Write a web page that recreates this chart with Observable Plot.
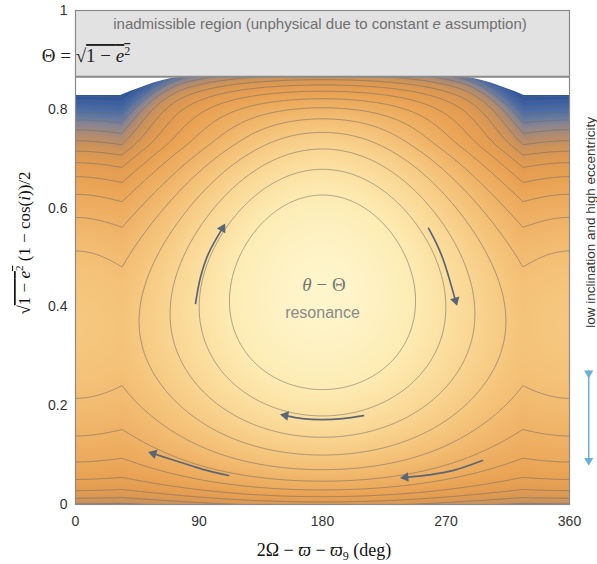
<!DOCTYPE html>
<html><head><meta charset="utf-8">
<script src="https://cdn.jsdelivr.net/npm/d3@7"></script>
<script src="https://cdn.jsdelivr.net/npm/@observablehq/plot@0.6"></script>
<style>body{margin:0;background:#fff}</style>
</head><body><div id="chart"></div>
<script>
// ---- axes / ticks
const xTicks = [0, 90, 180, 270, 360];
const yTicks = [0, 0.2, 0.4, 0.6, 0.8, 1];
// ---- contour levels of the Hamiltonian
const levels = [0.039, 0.063, 0.087, 0.111, 0.135, 0.159, 0.183, 0.207, 0.231, 0.255, 0.279, 0.303, 0.327, 0.351, 0.375, 0.399, 0.423];
// ---- admissible boundary and upper edge of computed domain (deg, value)
const admissibleTop = 0.866;
const topEdgePhi = [0, 33, 39, 45, 51, 57, 63, 69, 75, 81, 180, 279, 285, 291, 297, 303, 309, 315, 321, 327, 360];
const topEdgeY   = [0.828, 0.828, 0.835, 0.841, 0.847, 0.853, 0.858, 0.862, 0.865, 0.866, 0.866, 0.866, 0.865, 0.862, 0.858, 0.853, 0.847, 0.841, 0.835, 0.828, 0.828];
// ---- resonance model parameters (centre, crease, couplings)
const centre = [180, 0.43];
const creaseDeg = [34];
const coupling = [0.171, 0.072, 0.24, 0.4];      // saturation, depth, reference y, scale
const couplingTop = [0.6, 0.72, 0.16];           // reduction, start y, width
const angleMix = [0.7];
const sideDip = [0.06];
const bottomTerm = [0.06, 0.03];                  // amplitude, scale
const topTerm = [0.08, 0.11, 0.045, 0.02];        // amp, amp gain, scale, scale gain
// ---- colour ramp
const colorStops = [0, 0.04, 0.08, 0.12, 0.16, 0.20, 0.235, 0.265, 0.29, 0.315, 0.34, 0.37, 0.42];
const colorRange = ["#fef5cb", "#fdebb2", "#fad997", "#f5c57c", "#efb266", "#eaa354", "#e19b52", "#cf9458", "#b48c6e", "#8c8690", "#5f77a2", "#4467a8", "#2b55a0"];
// ---- flow arrows (deg, value)
const arrowLeft   = [[87.5, 0.407], [91.1, 0.460], [96.9, 0.508], [107.1, 0.559]];
const arrowRight  = [[257.3, 0.559], [263.1, 0.528], [268.2, 0.494], [276.9, 0.413]];
const arrowBottom = [[209.9, 0.180], [194.6, 0.174], [180, 0.172], [165.4, 0.174], [153, 0.180]];
const arrowLowL   = [[111.5, 0.0587], [97, 0.068], [83.8, 0.079], [56.8, 0.103]];
const arrowLowR   = [[296.6, 0.089], [275.5, 0.069], [258, 0.060], [240.5, 0.055]];
const sideArrow   = [[374, 0.271], [374, 0.089]];

const edgeScale = d3.scaleLinear().domain(topEdgePhi).range(topEdgeY).clamp(true);
function wrap(phi) { return ((phi % 360) + 360) % 360; }
function fold(phi) { const p = wrap(phi); return p > 180 ? 360 - p : p; }
function sMain(p) {
  const c = creaseDeg[0], a = Math.PI / 2 * (180 - p) / (180 - c), m = angleMix[0];
  return m * (1 - Math.cos(a)) + (1 - m) * Math.sin(a) ** 2;
}
function sAng(phi) {
  const p = fold(phi), c = creaseDeg[0];
  if (p >= c) return sMain(p);
  return 1 - sideDip[0] * Math.sin(Math.PI / 2 * (c - p) / c);
}
function smooth(t) { t = Math.max(0, Math.min(1, t)); return t * t * (3 - 2 * t); }
function ham(phi, y) {
  const p = fold(phi);
  const s = sAng(phi);
  const w = sMain(Math.max(p, creaseDeg[0])) ** 3;
  const Q = (coupling[0] - coupling[1] * Math.exp(-(y - coupling[2]) / coupling[3]))
          * (1 - couplingTop[0] * smooth((y - couplingTop[1]) / couplingTop[2]));
  const P = (y - centre[1]) ** 2;
  const eb = bottomTerm[0] * Math.exp(-Math.max(y, -0.05) / bottomTerm[1]);
  const A = topTerm[0] + topTerm[1] * w, lam = topTerm[2] + topTerm[3] * w;
  const et = A * Math.exp(-(edgeScale(wrap(phi)) - y) / lam);
  return P + Q * s + eb + et;
}

const W = 597, H = 564, mL = 75, mR = 28, mT = 10, mB = 60;
const xs = d3.scaleLinear([0, 360], [mL, W - mR]);
const ys = d3.scaleLinear([0, 1], [H - mB, mT]);
const arrowColor = "#5b6675";
const arcs = [arrowLeft, arrowRight, arrowBottom, arrowLowL, arrowLowR];
const heads = arcs.map(a => {
  const [p0, p1] = [a[a.length - 2], a[a.length - 1]];
  const dx = xs(p1[0]) - xs(p0[0]), dy = ys(p1[1]) - ys(p0[1]);
  return {x: p1[0], y: p1[1], r: Math.atan2(dx, -dy) * 180 / Math.PI};
});
const edgeData = topEdgePhi.map((p, i) => ({phi: p, y: topEdgeY[i]}));

const chart = Plot.plot({
  width: W, height: H,
  marginLeft: mL, marginRight: mR, marginTop: mT, marginBottom: mB,
  style: {fontFamily: "'Liberation Sans', Helvetica, Arial, sans-serif", fontSize: "14px", color: "#333", background: "#fff"},
  x: {domain: [0, 360], ticks: xTicks, tickSize: 0, tickPadding: 12, label: null},
  y: {domain: [0, 1], ticks: yTicks, tickSize: 0, tickPadding: 8, tickFormat: "~g", label: null},
  color: {type: "linear", domain: colorStops, range: colorRange, clamp: true},
  marks: [
    Plot.raster({fill: ham, x1: 0, x2: 360, y1: 0, y2: 1, pixelSize: 1}),
    Plot.contour({value: ham, x1: -4, x2: 364, y1: -0.02, y2: 1, pixelSize: 1, thresholds: levels,
      fill: "none", stroke: "#6b6865", strokeOpacity: 0.72, strokeWidth: 0.8, clip: true}),
    Plot.areaY(edgeData, {x: "phi", y1: "y", y2: admissibleTop, fill: "white"}),
    Plot.rect([0], {x1: 0, x2: 360, y1: admissibleTop, y2: 1, fill: "#e2e2e2"}),
    Plot.ruleY([admissibleTop], {stroke: "#8a8a8a", strokeWidth: 2}),
    Plot.frame({stroke: "#8a8a8a", strokeWidth: 1.2}),
    ...arcs.map(a => Plot.line(a, {x: d => d[0], y: d => d[1], curve: "catmull-rom", stroke: arrowColor, strokeWidth: 1.7})),
    Plot.dot(heads, {x: "x", y: "y", rotate: "r", symbol: "triangle", r: 3.6, fill: arrowColor, stroke: "none"}),
    Plot.line(sideArrow, {x: d => d[0], y: d => d[1], stroke: "#6aafd8", strokeWidth: 1.5, clip: false}),
    Plot.dot([{x: 374, y: 0.089, r: 180}, {x: 374, y: 0.266, r: 180}], {x: "x", y: "y", rotate: "r", symbol: "triangle", r: 3.4, fill: "#6aafd8", clip: false}),
    Plot.text(["low inclination and high eccentricity"], {x: 375.5, y: 0.571, rotate: -90, fontSize: 13.5, fill: "#333", clip: false}),
    Plot.text(["resonance"], {x: 180, y: 0.387, fontSize: 16, fill: "#8a8a8a"})
  ]
});
document.getElementById("chart").append(chart);

const svg = d3.select(chart);
const serif = "'Liberation Serif', 'DejaVu Serif', serif";
// x label
const xl = svg.append("text").attr("x", 324).attr("y", 556).attr("text-anchor", "middle")
  .attr("font-family", serif).attr("font-size", 18).attr("fill", "#111");
xl.append("tspan").text("2Ω − ");
xl.append("tspan").attr("font-style", "italic").text("ϖ");
xl.append("tspan").text(" − ");
xl.append("tspan").attr("font-style", "italic").text("ϖ");
xl.append("tspan").attr("font-size", 12).attr("dy", 4).text("9");
xl.append("tspan").attr("dy", -4).text(" (deg)");
// y label
const yl = svg.append("text").attr("transform", "translate(30,243) rotate(-90)").attr("text-anchor", "middle")
  .attr("font-family", serif).attr("font-size", 17).attr("fill", "#111");
yl.append("tspan").text("√");
const yr = yl.append("tspan").style("text-decoration", "overline");
yr.append("tspan").text("1 − ");
yr.append("tspan").attr("font-style", "italic").text("e");
yr.append("tspan").attr("font-size", 11).attr("dy", -7).text("2");
yl.append("tspan").attr("dy", 7).text(" (1 − cos(");
yl.append("tspan").attr("font-style", "italic").text("i");
yl.append("tspan").text("))/2");
// inadmissible text
const it = svg.append("text").attr("x", 320).attr("y", 29).attr("text-anchor", "middle")
  .attr("font-family", "'Liberation Sans', Helvetica, Arial, sans-serif").attr("font-size", 15).attr("fill", "#6f6f6f");
it.append("tspan").text("inadmissible region (unphysical due to constant ");
it.append("tspan").attr("font-style", "italic").text("e");
it.append("tspan").text(" assumption)");
// Theta formula
const th = svg.append("text").attr("x", 86).attr("y", 62).attr("font-family", serif).attr("font-size", 19).attr("fill", "#222");
th.append("tspan").text("Θ = √");
const thr = th.append("tspan").style("text-decoration", "overline");
thr.append("tspan").text("1 − ");
thr.append("tspan").attr("font-style", "italic").text("e");
thr.append("tspan").attr("font-size", 12).attr("dy", -7).text("2");
// centre label
const cl = svg.append("text").attr("x", 324).attr("y", 291).attr("text-anchor", "middle")
  .attr("font-family", serif).attr("font-size", 19).attr("fill", "#777");
cl.append("tspan").attr("font-style", "italic").text("θ");
cl.append("tspan").text(" − Θ");
</script></body></html>
